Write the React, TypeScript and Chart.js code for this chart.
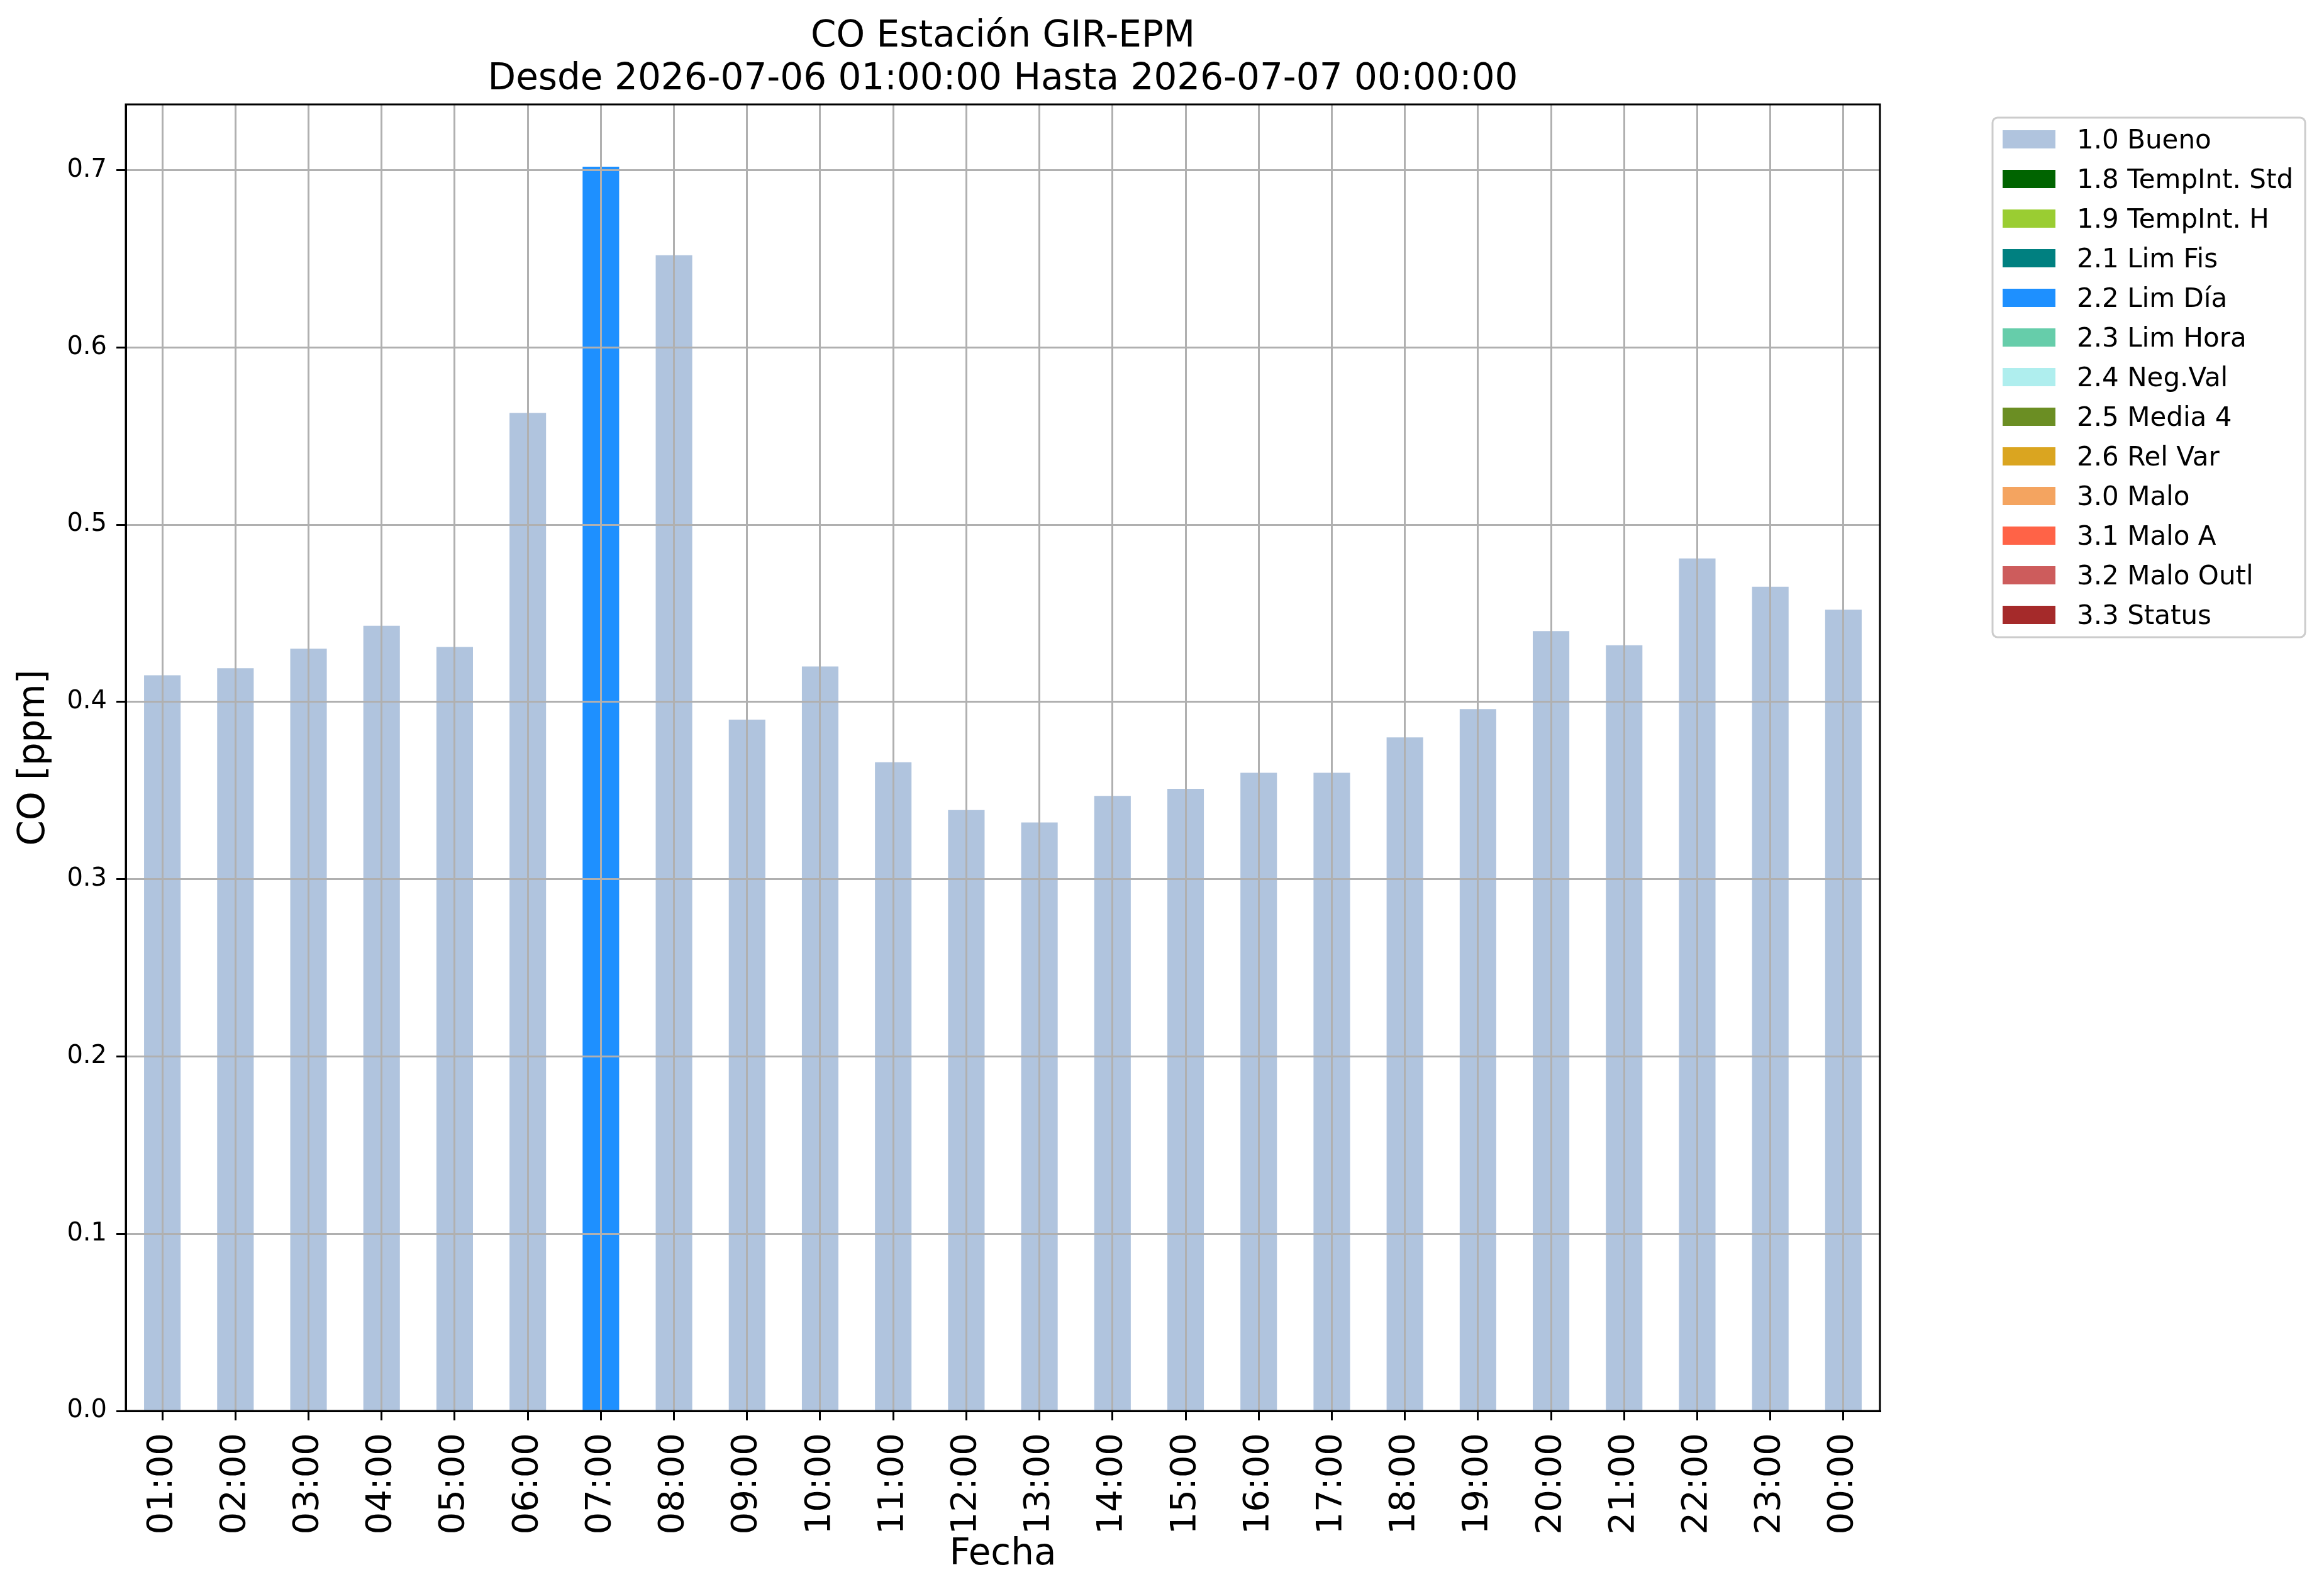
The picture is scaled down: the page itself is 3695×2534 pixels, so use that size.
import { useEffect, useRef } from 'react'
import { Chart, registerables } from 'chart.js'

Chart.register(...registerables)

const hours = [
  '01:00', '02:00', '03:00', '04:00', '05:00', '06:00', '07:00', '08:00',
  '09:00', '10:00', '11:00', '12:00', '13:00', '14:00', '15:00', '16:00',
  '17:00', '18:00', '19:00', '20:00', '21:00', '22:00', '23:00', '00:00',
]

// CO concentration per hour, split by the quality flag of each reading
const bueno = [
  0.415, 0.419, 0.430, 0.443, 0.431, 0.563, null, 0.652,
  0.390, 0.420, 0.366, 0.339, 0.332, 0.347, 0.351, 0.360,
  0.360, 0.380, 0.396, 0.440, 0.432, 0.481, 0.465, 0.452,
]
const limDia = [
  null, null, null, null, null, null, 0.702, null,
  null, null, null, null, null, null, null, null,
  null, null, null, null, null, null, null, null,
]

const flagLabels = [
  '1.0 Bueno', '1.8 TempInt. Std', '1.9 TempInt. H', '2.1 Lim Fis', '2.2 Lim Día',
  '2.3 Lim Hora', '2.4 Neg.Val', '2.5 Media 4', '2.6 Rel Var', '3.0 Malo',
  '3.1 Malo A', '3.2 Malo Outl', '3.3 Status',
]
const flagSeries: (number | null)[][] = [
  bueno, [], [], [], limDia, [], [], [], [], [], [], [], [],
]
const flagColors = [
  '#b0c4de', '#006400', '#9acd32', '#008080', '#1e90ff', '#66cdaa', '#afeeee',
  '#6b8e23', '#daa520', '#f4a460', '#ff6347', '#cd5c5c', '#a52a2a',
]

const yTicks = [0, 0.1, 0.2, 0.3, 0.4, 0.5, 0.6, 0.7]

const titleLines = [
  'CO Estación GIR-EPM',
  'Desde 2026-07-06 01:00:00 Hasta 2026-07-07 00:00:00',
]

const FONT = '"DejaVu Sans", sans-serif'

const titlePlugin = {
  id: 'mplTitle',
  afterDraw(chart: Chart) {
    const { ctx, chartArea } = chart
    const cx = (chartArea.left + chartArea.right) / 2
    ctx.save()
    ctx.fillStyle = '#000'
    ctx.font = `58px ${FONT}`
    ctx.textAlign = 'center'
    ctx.textBaseline = 'alphabetic'
    ctx.fillText(titleLines[0], cx, 74)
    ctx.fillText(titleLines[1], cx, 142)
    ctx.restore()
  },
}

const framePlugin = {
  id: 'frame',
  afterDraw(chart: Chart) {
    const { ctx, chartArea } = chart
    ctx.save()
    ctx.strokeStyle = '#000'
    ctx.lineWidth = 3
    ctx.strokeRect(chartArea.left, chartArea.top, chartArea.right - chartArea.left, chartArea.bottom - chartArea.top)
    ctx.restore()
  },
}

const legendPlugin = {
  id: 'outsideLegend',
  afterDraw(chart: Chart) {
    const { ctx, chartArea } = chart
    const items = chart.data.datasets
    const x0 = chartArea.right + 179
    const y0 = 187
    const pitch = 63
    const textX = x0 + 134
    ctx.save()
    ctx.font = `42px ${FONT}`
    const maxW = Math.max(...items.map((d) => ctx.measureText(String(d.label)).width))
    const w = textX - x0 + maxW + 19
    const h = 20 + (items.length - 1) * pitch + 29 + 21
    ctx.beginPath()
    ctx.roundRect(x0, y0, w, h, 8)
    ctx.fillStyle = '#fff'
    ctx.fill()
    ctx.strokeStyle = '#cccccc'
    ctx.lineWidth = 3
    ctx.stroke()
    items.forEach((d, i) => {
      const top = y0 + 20 + i * pitch
      ctx.fillStyle = d.backgroundColor as string
      ctx.fillRect(x0 + 16, top, 84, 29)
      ctx.fillStyle = '#000'
      ctx.textBaseline = 'alphabetic'
      ctx.fillText(String(d.label), textX, top + 29)
    })
    ctx.restore()
  },
}

export default function App() {
  const chartRef = useRef<HTMLCanvasElement>(null)

  useEffect(() => {
    if (!chartRef.current) return
    const ctx = chartRef.current.getContext('2d')
    if (!ctx) return

    Chart.defaults.font.family = FONT
    Chart.defaults.color = '#000'

    const allValues = flagSeries.flat().filter((v): v is number => v != null)
    const yMax = Math.max(...allValues) * 1.05

    const chart = new Chart(ctx, {
      type: 'bar',
      data: {
        labels: hours,
        datasets: flagLabels.map((label, i) => ({
          label,
          data: flagSeries[i],
          backgroundColor: flagColors[i],
          borderWidth: 0,
          categoryPercentage: 1,
          barPercentage: 0.5,
        })),
      },
      options: {
        responsive: false,
        animation: false,
        events: [],
        layout: { padding: { top: 166, left: 0, right: 706, bottom: 0 } },
        plugins: {
          legend: { display: false },
          title: { display: false },
          tooltip: { enabled: false },
        },
        scales: {
          x: {
            stacked: true,
            offset: true,
            grid: {
              z: 1,
              offset: false,
              color: '#b0b0b0',
              lineWidth: 3,
              tickColor: '#000',
              tickWidth: 3,
              tickLength: 15,
            },
            border: { color: '#000', width: 3, z: 2 },
            ticks: {
              autoSkip: false,
              maxRotation: 90,
              minRotation: 90,
              padding: 20,
              font: { size: 56 },
            },
            title: {
              display: true,
              text: 'Fecha',
              font: { size: 58 },
              padding: { top: 0, bottom: 27 },
            },
            afterFit: (scale) => {
              scale.height = 291
            },
          },
          y: {
            stacked: true,
            min: 0,
            max: yMax,
            grid: {
              z: 1,
              color: '#b0b0b0',
              lineWidth: 3,
              tickColor: '#000',
              tickWidth: 3,
              tickLength: 15,
            },
            border: { color: '#000', width: 3, z: 2 },
            ticks: {
              autoSkip: false,
              padding: 15,
              font: { size: 40 },
              callback: (value) => Number(value).toFixed(1),
            },
            afterBuildTicks: (scale) => {
              scale.ticks = yTicks.map((value) => ({ value }))
            },
            title: {
              display: true,
              text: 'CO [ppm]',
              font: { size: 58 },
              padding: { top: 20, bottom: 0 },
            },
            afterFit: (scale) => {
              scale.width = 200
            },
          },
        },
      },
      plugins: [titlePlugin, framePlugin, legendPlugin],
    })

    return () => chart.destroy()
  }, [])

  return (
    <div style={{ position: 'fixed', left: 0, top: 0, width: 3695, height: 2534, background: '#fff' }}>
      <canvas ref={chartRef} width={3695} height={2534} style={{ display: 'block' }} />
    </div>
  )
}
